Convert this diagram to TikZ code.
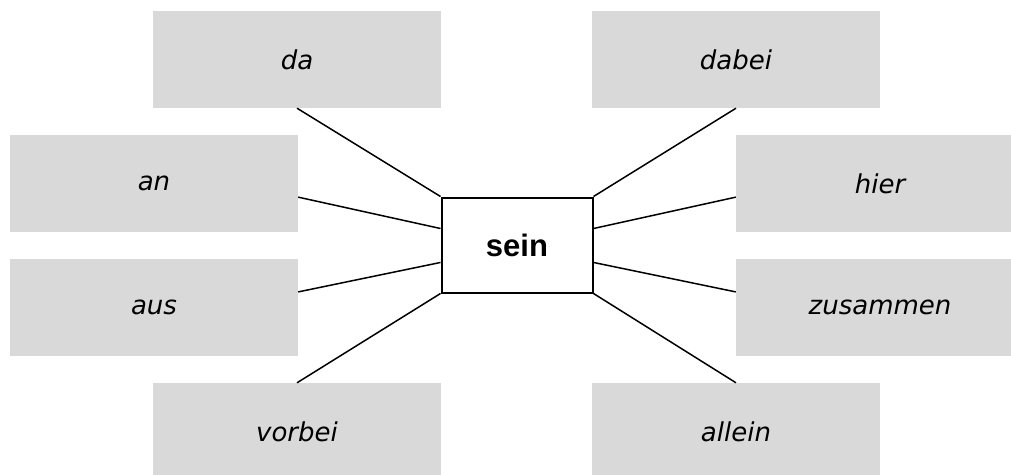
\documentclass[tikz,border=0pt]{standalone}
\usepackage{xcolor}
\usepackage{fontspec}
\setmainfont{DejaVu Sans}
\newfontfamily\verbfont{Liberation Sans}
\definecolor{wordgrey}{HTML}{D9D9D9}
\usetikzlibrary{positioning,calc}

\begin{document}
\begin{tikzpicture}[x=1pt,y=-1pt,
    word/.style={fill=wordgrey, minimum width=288pt, minimum height=97pt, inner sep=0pt,
                 font=\fontsize{26}{30}\selectfont\itshape},
    verb/.style={draw, line width=2pt, fill=white, minimum width=151pt, minimum height=95pt,
                 inner sep=0pt, font=\verbfont\bfseries\fontsize{31}{36}\selectfont},
    link/.style={line width=1.5pt}]
        \useasboundingbox (0,0) rectangle (1011,474);

        % Woerter links
        \node [word] (da) at (297, 59.5) {da};
        \node [word] (an) at (154, 183.5) {an};
        \node [word] (aus) at (154, 307.5) {aus};
        \node [word] (vorbei) at (297, 431.5) {vorbei};

        % Woerter rechts
        \node [word] (dabei) at (736, 59.5) {dabei};
        \node [word] (hier) at (880, 183.5) {hier};
        \node [word] (zusammen) at (880, 307.5) {zusammen};
        \node [word] (allein) at (736, 431.5) {allein};

        % Verb
        \node [verb] (sein) at (517, 245) {sein};

        % Linien
        \draw [link] (da.south) -- (sein.north west);
        \draw [link] (dabei.south) -- (sein.north east);
        \draw [link] (vorbei.north) -- (sein.south west);
        \draw [link] (allein.north) -- (sein.south east);
        \draw [link] ($(an.north east)!.64!(an.south east)$) -- ($(sein.north west)!.33!(sein.south west)$);
        \draw [link] ($(aus.north east)!.34!(aus.south east)$) -- ($(sein.north west)!.68!(sein.south west)$);
        \draw [link] ($(hier.north west)!.64!(hier.south west)$) -- ($(sein.north east)!.33!(sein.south east)$);
        \draw [link] ($(zusammen.north west)!.34!(zusammen.south west)$) -- ($(sein.north east)!.68!(sein.south east)$);
    \end{tikzpicture}
\end{document}
